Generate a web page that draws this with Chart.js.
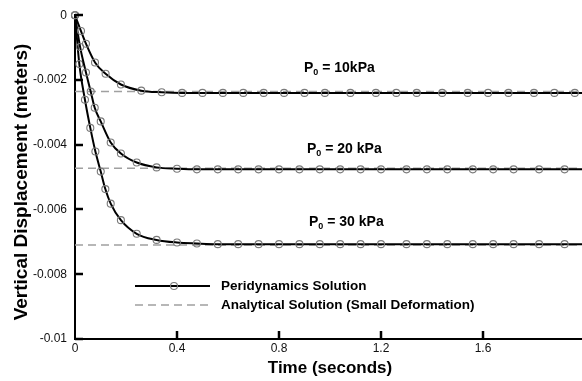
<!DOCTYPE html>
<html>
<head>
<meta charset="utf-8">
<script src="https://cdn.jsdelivr.net/npm/chart.js@4/dist/chart.umd.min.js"></script>
<style>
  html, body { margin: 0; padding: 0; background: #fff; overflow: hidden; }
  #wrap { position: absolute; left: 0; top: 0; width: 600px; height: 381px; }
</style>
</head>
<body>
<div id="wrap"><canvas id="c" width="600" height="381"></canvas></div>
<script>
// ---- data ----
const xTickValues = [0, 0.4, 0.8, 1.2, 1.6, 2];
const xTickLabels = ["0", "0.4", "0.8", "1.2", "1.6", "2"];
const yTickValues = [0, -0.002, -0.004, -0.006, -0.008, -0.01];
const yTickLabels = ["0", "-0.002", "-0.004", "-0.006", "-0.008", "-0.01"];

// P0 = 10 kPa, peridynamics
const time10 = [0, 0.0235, 0.043, 0.0785, 0.12, 0.18, 0.26, 0.34, 0.42, 0.50, 0.58, 0.66, 0.74, 0.82, 0.90, 0.98, 1.08, 1.18, 1.26, 1.34, 1.44, 1.54, 1.62, 1.70, 1.80, 1.88, 1.96, 2.0];
const disp10 = [0, -0.00049, -0.00088, -0.00146, -0.00181, -0.00214, -0.00233, -0.00238, -0.0024, -0.0024, -0.0024, -0.0024, -0.0024, -0.0024, -0.0024, -0.0024, -0.0024, -0.0024, -0.0024, -0.0024, -0.0024, -0.0024, -0.0024, -0.0024, -0.0024, -0.0024, -0.0024, -0.0024];
// P0 = 20 kPa, peridynamics
const time20 = [0, 0.02, 0.043, 0.0616, 0.0773, 0.1009, 0.14, 0.18, 0.242, 0.32, 0.40, 0.478, 0.56, 0.64, 0.72, 0.80, 0.88, 0.96, 1.04, 1.12, 1.20, 1.30, 1.38, 1.46, 1.56, 1.64, 1.72, 1.82, 1.92, 2.0];
const disp20 = [0, -0.00098, -0.00177, -0.00236, -0.00286, -0.00328, -0.00393, -0.00427, -0.00455, -0.0047, -0.00474, -0.00476, -0.00476, -0.00476, -0.00476, -0.00476, -0.00476, -0.00476, -0.00476, -0.00476, -0.00476, -0.00476, -0.00476, -0.00476, -0.00476, -0.00476, -0.00476, -0.00476, -0.00476, -0.00476];
// P0 = 30 kPa, peridynamics
const time30 = [0, 0.017, 0.039, 0.06, 0.08, 0.101, 0.119, 0.14, 0.18, 0.242, 0.32, 0.40, 0.478, 0.56, 0.64, 0.72, 0.80, 0.88, 0.96, 1.04, 1.12, 1.20, 1.30, 1.38, 1.46, 1.56, 1.64, 1.72, 1.82, 1.92, 2.0];
const disp30 = [0, -0.00151, -0.00261, -0.00348, -0.00421, -0.00483, -0.00537, -0.00582, -0.00633, -0.00675, -0.00694, -0.00702, -0.00705, -0.00707, -0.00707, -0.00707, -0.00707, -0.00707, -0.00707, -0.00707, -0.00707, -0.00707, -0.00707, -0.00707, -0.00707, -0.00707, -0.00707, -0.00707, -0.00707, -0.00707, -0.00707];

// analytical (small deformation) final settlements
const analyticTime = [0, 2.0];
const analytic10 = -0.00236;
const analytic20 = -0.00473;
const analytic30 = -0.0071;

const loadLabels = ["10kPa", "20 kPa", "30 kPa"];
const legendLabels = ["Peridynamics Solution", "Analytical Solution (Small Deformation)"];

// ---- build datasets ----
function pts(ts, vs) { return ts.map((t, i) => ({ x: t, y: vs[i] })); }
function radii(ts) { return ts.map(t => (t >= 2 ? 0 : 3.5)); }

const solidStyle = {
  borderColor: '#000', borderWidth: 2, cubicInterpolationMode: 'monotone',
  pointStyle: 'circle', pointBorderColor: '#7a7a7a', pointBackgroundColor: 'rgba(0,0,0,0)',
  pointBorderWidth: 1.1, showLine: true, clip: false
};
const dashStyle = {
  borderColor: '#a0a0a0', borderWidth: 1.5, borderDash: [8, 5], pointRadius: 0, showLine: true, clip: false
};

const datasets = [
  Object.assign({ data: pts(time10, disp10), pointRadius: radii(time10) }, solidStyle),
  Object.assign({ data: pts(time20, disp20), pointRadius: radii(time20) }, solidStyle),
  Object.assign({ data: pts(time30, disp30), pointRadius: radii(time30) }, solidStyle),
  Object.assign({ data: pts(analyticTime, [analytic10, analytic10]) }, dashStyle),
  Object.assign({ data: pts(analyticTime, [analytic20, analytic20]) }, dashStyle),
  Object.assign({ data: pts(analyticTime, [analytic30, analytic30]) }, dashStyle)
];

const FONT = '"Liberation Sans", Arial, sans-serif';

const decor = {
  id: 'decor',
  afterDraw(chart) {
    const ctx = chart.ctx;
    const xs = chart.scales.x, ys = chart.scales.y;
    const area = chart.chartArea;
    ctx.save();
    // inward ticks
    ctx.strokeStyle = '#000';
    ctx.lineWidth = 2.5;
    yTickValues.forEach(v => {
      const py = Math.round(ys.getPixelForValue(v));
      ctx.beginPath(); ctx.moveTo(area.left, py); ctx.lineTo(area.left + 8, py); ctx.stroke();
    });
    xTickValues.forEach(v => {
      if (v === 0) return;
      const px = Math.round(xs.getPixelForValue(v));
      ctx.beginPath(); ctx.moveTo(px, area.bottom); ctx.lineTo(px, area.bottom - 8); ctx.stroke();
    });

    // axis titles
    ctx.fillStyle = '#000';
    ctx.font = 'bold 17px ' + FONT;
    ctx.textAlign = 'center'; ctx.textBaseline = 'middle';
    ctx.fillText('Time (seconds)', (area.left + area.right) / 2, 368);
    ctx.save();
    ctx.translate(22, 182);
    ctx.rotate(-Math.PI / 2);
    ctx.font = 'bold 19px ' + FONT;
    ctx.fillText('Vertical Displacement (meters)', 0, 0);
    ctx.restore();

    // load labels P0 = ...
    const labelPos = [[304, 68], [307, 149], [309, 222]];
    loadLabels.forEach((txt, i) => {
      const [lx, ly] = labelPos[i];
      ctx.textAlign = 'left'; ctx.textBaseline = 'middle';
      ctx.font = 'bold 14px ' + FONT;
      ctx.fillText('P', lx, ly);
      const wP = ctx.measureText('P').width;
      ctx.font = 'bold 9px ' + FONT;
      ctx.fillText('0', lx + wP, ly + 5);
      const w0 = ctx.measureText('0').width;
      ctx.font = 'bold 14px ' + FONT;
      ctx.fillText(' = ' + txt, lx + wP + w0, ly);
    });

    // legend
    ctx.lineWidth = 2; ctx.strokeStyle = '#000'; ctx.setLineDash([]);
    ctx.beginPath(); ctx.moveTo(135, 286); ctx.lineTo(210, 286); ctx.stroke();
    ctx.lineWidth = 1.1; ctx.strokeStyle = '#7a7a7a';
    ctx.beginPath(); ctx.arc(174, 286, 3.5, 0, Math.PI * 2); ctx.stroke();
    ctx.lineWidth = 1.5; ctx.strokeStyle = '#a0a0a0'; ctx.setLineDash([8, 5]);
    ctx.beginPath(); ctx.moveTo(135, 305); ctx.lineTo(210, 305); ctx.stroke();
    ctx.setLineDash([]);
    ctx.font = 'bold 13.5px ' + FONT;
    ctx.fillStyle = '#000'; ctx.textAlign = 'left'; ctx.textBaseline = 'middle';
    ctx.fillText(legendLabels[0], 221, 286);
    ctx.fillText(legendLabels[1], 221, 305);
    ctx.restore();
  }
};

new Chart(document.getElementById('c'), {
  type: 'scatter',
  data: { datasets },
  options: {
    responsive: false,
    animation: false,
    devicePixelRatio: 1,
    layout: { padding: { top: 12, right: 15, left: 0, bottom: 0 } },
    plugins: { legend: { display: false }, tooltip: { enabled: false } },
    scales: {
      x: {
        type: 'linear', min: 0, max: 2,
        afterFit(s) { s.height = 42; },
        afterBuildTicks(s) { s.ticks = xTickValues.map(v => ({ value: v })); },
        ticks: {
          padding: 2, color: '#111', font: { family: FONT, size: 12 },
          maxRotation: 0, autoSkip: false,
          callback: (v) => { const i = xTickValues.indexOf(v); return i >= 0 ? xTickLabels[i] : ''; }
        },
        grid: { display: false, drawTicks: false },
        border: { display: true, color: '#000', width: 2 }
      },
      y: {
        type: 'linear', min: -0.01, max: 0,
        afterFit(s) { s.width = 75; },
        afterBuildTicks(s) { s.ticks = yTickValues.map(v => ({ value: v })); },
        ticks: {
          padding: 8, color: '#111', font: { family: FONT, size: 12 }, autoSkip: false,
          callback: (v) => { const i = yTickValues.findIndex(t => Math.abs(t - v) < 1e-9); return i >= 0 ? yTickLabels[i] : ''; }
        },
        grid: { display: false, drawTicks: false },
        border: { display: true, color: '#000', width: 2 }
      }
    }
  },
  plugins: [decor]
});
</script>
</body>
</html>
